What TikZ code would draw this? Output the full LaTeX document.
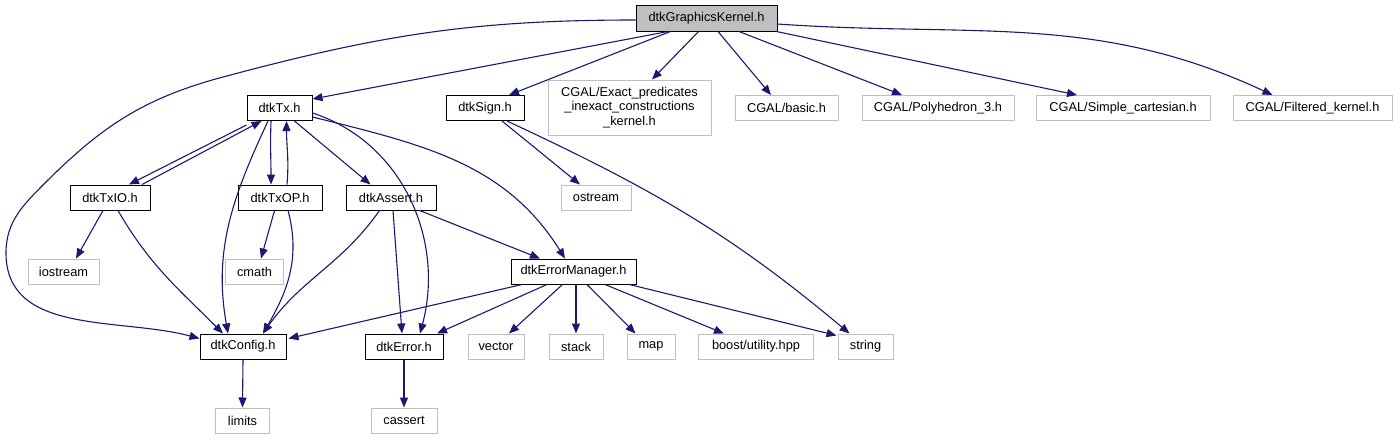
\documentclass[tikz,border=0pt]{standalone}
\usepackage{fontspec}
\setmainfont{Liberation Sans}
\usetikzlibrary{arrows.meta,calc}
\definecolor{edgeblue}{HTML}{191970}
\definecolor{extgray}{HTML}{BFBFBF}
\definecolor{gkfill}{HTML}{BFBFBF}
\begin{document}
\begin{tikzpicture}[x=1pt,y=-1pt,
  box/.style={draw=black, line width=1pt, fill=white, rectangle, inner sep=0pt,
    minimum height=25pt, font=\fontsize{12.8}{14.3}\selectfont},
  ext/.style={box, draw=extgray, line width=1pt},
  edge/.style={draw=edgeblue, line width=1.1pt, -{Triangle[length=10pt,width=8pt]}},
]
\useasboundingbox (0,0) rectangle (1396,440);
% nodes
\node[box, fill=gkfill, minimum width=141pt, minimum height=26pt] (gk) at (706.5,18) {dtkGraphicsKernel.h};
\node[box, minimum width=65pt] (tx) at (279.5,108) {dtkTx.h};
\node[box, minimum width=78pt] (sign) at (485,108) {dtkSign.h};
\node[ext, minimum width=163pt, minimum height=55pt, align=center] (exact) at (629.5,107.5) {CGAL/Exact\_predicates\\\_inexact\_constructions\\\_kernel.h};
\node[ext, minimum width=103pt] (basic) at (786.5,108) {CGAL/basic.h};
\node[ext, minimum width=152pt] (poly) at (938,108) {CGAL/Polyhedron\_3.h};
\node[ext, minimum width=174pt] (simple) at (1123,108) {CGAL/Simple\_cartesian.h};
\node[ext, minimum width=159pt] (filtered) at (1312.5,108) {CGAL/Filtered\_kernel.h};
\node[box, minimum width=80pt] (txio) at (110,197.5) {dtkTxIO.h};
\node[box, minimum width=84pt] (txop) at (280,197.5) {dtkTxOP.h};
\node[box, minimum width=90pt] (assert) at (391,197.5) {dtkAssert.h};
\node[ext, minimum width=70pt] (ostream) at (596,197.5) {ostream};
\node[ext, minimum width=71pt] (iostream) at (63.5,271.5) {iostream};
\node[ext, minimum width=58pt] (cmath) at (254.5,271.5) {cmath};
\node[box, minimum width=125pt] (errmgr) at (573.5,271.5) {dtkErrorManager.h};
\node[box, minimum width=86pt] (config) at (243,346.5) {dtkConfig.h};
\node[box, minimum width=78pt] (error) at (404,346.5) {dtkError.h};
\node[ext, minimum width=56pt] (vector) at (496,346.5) {vector};
\node[ext, minimum width=54pt] (stack) at (576,346.5) {stack};
\node[ext, minimum width=48pt] (map) at (651,346.5) {map};
\node[ext, minimum width=115pt] (boost) at (756,346.5) {boost/utility.hpp};
\node[ext, minimum width=55pt] (string) at (865.5,346.5) {string};
\node[ext, minimum width=54pt] (limits) at (242.5,420.5) {limits};
\node[ext, minimum width=66pt] (cassert) at (404,420.5) {cassert};
% edges from dtkGraphicsKernel.h
\draw[edge] ([yshift=-2pt]gk.west) to[out=180,in=15] (223,77) to[out=195,in=45] (45,183)
  to[out=225,in=90] (6,253) to[out=270,in=165] ([yshift=8pt]config.west);
\draw[edge] ([xshift=-38.5pt]gk.south) -- ([yshift=9pt]tx.east);
\draw[edge] ([xshift=-36pt]gk.south) -- ([xshift=24pt]sign.north);
\draw[edge] ([xshift=-8pt]gk.south) -- ([xshift=22.5pt]exact.north);
\draw[edge] ([xshift=11.5pt]gk.south) -- ([xshift=-15.5pt]basic.north);
\draw[edge] ([xshift=32.5pt]gk.south) -- ([xshift=-36pt]poly.north);
\draw[edge] ([xshift=-1pt]gk.south east) -- ([xshift=-46pt]simple.north);
\draw[edge] ([yshift=-6pt]gk.east) to[out=-4,in=155] ([xshift=-40pt]filtered.north);
% dtkTx.h
\draw[edge] ([yshift=-4pt]tx.south west) -- ([xshift=19pt]txio.north);
\draw[edge] ([xshift=32pt]txio.north) -- ([xshift=-18pt]tx.south);
\draw[edge] ([xshift=-11.5pt]tx.south) to[out=-115,in=100] ([xshift=-15pt]config.north);
\draw[edge] ([xshift=-8.5pt]tx.south) to[out=-92,in=90] ([xshift=-9pt]txop.north);
\draw[edge] ([xshift=7pt]txop.north) to[out=85,in=-90] ([xshift=7pt]tx.south);
\draw[edge] ([xshift=15pt]tx.south) -- ([xshift=-20.5pt]assert.north);
\draw[edge] ([yshift=-5pt]tx.east) to[out=-18,in=75] ([xshift=16pt]error.north);
\draw[edge] ([yshift=-9pt]tx.east) to[out=-14,in=122] ([xshift=-8.5pt]errmgr.north);
% dtkTxIO.h
\draw[edge] ([xshift=-7pt]txio.south) -- ([xshift=12.5pt]iostream.north);
\draw[edge] ([xshift=8pt]txio.south) to[out=-60,in=135] ([xshift=-20pt]config.north);
% dtkTxOP.h
\draw[edge] ([xshift=-5.5pt]txop.south) -- ([xshift=6.5pt]cmath.north);
\draw[edge] ([xshift=8pt]txop.south) to[out=-75,in=60] ([xshift=20pt]config.north);
% dtkAssert.h
\draw[edge] ([xshift=-11.5pt]assert.south) to[out=-125,in=55] ([xshift=20pt]config.north);
\draw[edge] ([xshift=2pt]assert.south) -- ([xshift=-2pt]error.north);
\draw[edge] ([xshift=28.6pt]assert.south) -- ([xshift=-33.5pt]errmgr.north);
% dtkSign.h
\draw[edge] ([xshift=17pt]sign.south) -- ([xshift=-16pt]ostream.north);
\draw[edge] ([xshift=22pt]sign.south) to[out=-25,in=140] ([xshift=-16pt]string.north);
% dtkErrorManager.h
\draw[edge] ([xshift=-51.5pt]errmgr.south) -- ([xshift=2pt,yshift=-5pt]config.north east);
\draw[edge] ([xshift=-26.5pt]errmgr.south) -- ([xshift=33pt]error.north);
\draw[edge] ([xshift=-11pt]errmgr.south) -- ([xshift=13pt]vector.north);
\draw[edge] ([xshift=2.5pt]errmgr.south) -- (stack.north);
\draw[edge] ([xshift=13.5pt]errmgr.south) -- ([xshift=-15.5pt]map.north);
\draw[edge] ([xshift=31.5pt]errmgr.south) -- ([xshift=-32pt]boost.north);
\draw[edge] ([xshift=56pt]errmgr.south) -- ([xshift=-1pt,yshift=-2pt]string.north west);
% leaves
\draw[edge] (config.south) -- (limits.north);
\draw[edge] (error.south) -- (cassert.north);
\end{tikzpicture}
\end{document}
